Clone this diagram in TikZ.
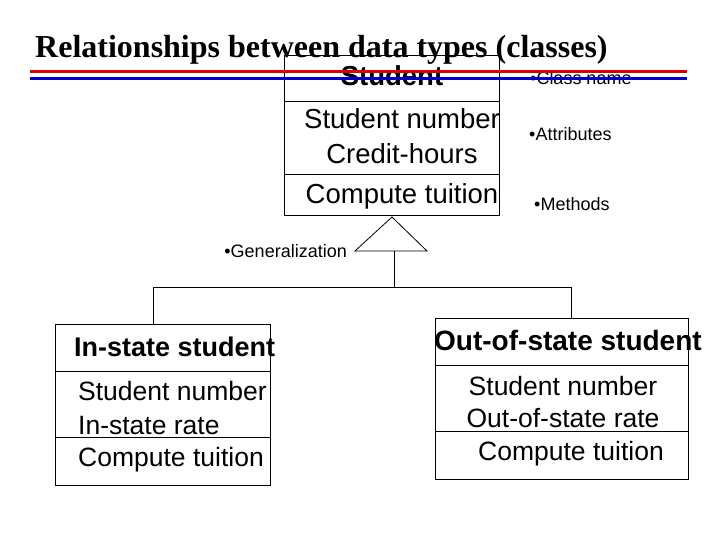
\documentclass[tikz,border=0pt]{standalone}
\usepackage{fontspec}
\setmainfont{Liberation Sans}
\newfontfamily\titlefont{Liberation Serif}
\begin{document}
\begin{tikzpicture}[x=1pt,y=-1pt,
  box/.style={draw,line width=0.8pt},
  lbl/.style={inner sep=0pt,font=\fontsize{27.5}{35}\selectfont},
  sm/.style={inner sep=0pt,font=\fontsize{18}{20}\selectfont},
  ln/.style={line width=0.8pt}]
\useasboundingbox (0,0) rectangle (720,540);
% Student class
\draw[box] (284,55) rectangle (499,215);
\draw[ln] (284,101) -- (499,101);
\draw[ln] (284,174) -- (499,174);
\node[inner sep=0pt,font=\fontsize{27.5}{30}\selectfont\bfseries] (sname) at (392,76) {Student};
\node[lbl,align=center] (sattr) at (402,136) {Student number\\Credit-hours};
\node[lbl] (smeth) at (402,196) {Compute tuition};
\node[sm,anchor=west] (cn) at (530,78) {•Class name};
\node[sm,anchor=west] (at) at (529,134) {•Attributes};
\node[sm,anchor=west] (me) at (534,204) {•Methods};
% title and rules
\node[inner sep=0pt,font=\titlefont\fontsize{32}{34}\selectfont\bfseries,anchor=west] (title) at (35,50) {Relationships between data types (classes)};
\draw[red!85!black,line width=3pt] (30,72) -- (687,72);
\draw[blue!80!black,line width=3pt] (30,78.5) -- (687,78.5);
% generalization
\coordinate (apex) at (392,217);
\coordinate (bl) at (355,251);
\coordinate (br) at (427,251);
\coordinate (bm) at (394,251);
\coordinate (j) at (394,287);
\coordinate (jl) at (153,287);
\coordinate (jr) at (571,287);
\draw[ln] (apex) -- (bl) -- (br) -- cycle;
\node[sm,anchor=east] (gen) at (347,251) {•Generalization};
\draw[ln] (bm) -- (j);
\draw[ln] (jl) -- (jr);
% in-state
\draw[box] (55,324) rectangle (270,485);
\draw[ln] (55,371) -- (270,371);
\draw[ln] (55,437) -- (270,437);
\node[inner sep=0pt,font=\fontsize{27}{30}\selectfont\bfseries,anchor=west] (iname) at (74,347) {In-state student};
\node[inner sep=0pt,anchor=west,align=left,font=\fontsize{26.5}{34}\selectfont] (iattr) at (78,408) {Student number\\In-state rate};
\node[inner sep=0pt,anchor=west,font=\fontsize{26.5}{30}\selectfont] (imeth) at (78,460) {Compute tuition};
\draw[ln] (jl) -- (153,324);
% out-of-state
\draw[box] (435,318) rectangle (688,479);
\draw[ln] (435,365) -- (688,365);
\draw[ln] (435,431) -- (688,431);
\node[inner sep=0pt,font=\fontsize{28}{30}\selectfont\bfseries,anchor=west] (oname) at (434,340) {Out-of-state student};
\node[inner sep=0pt,align=center,font=\fontsize{26.5}{32}\selectfont] (oattr) at (563,402) {Student number\\Out-of-state rate};
\node[inner sep=0pt,font=\fontsize{26.5}{30}\selectfont] (ometh) at (571,454) {Compute tuition};
\draw[ln] (jr) -- (571,318);
\end{tikzpicture}
\end{document}
